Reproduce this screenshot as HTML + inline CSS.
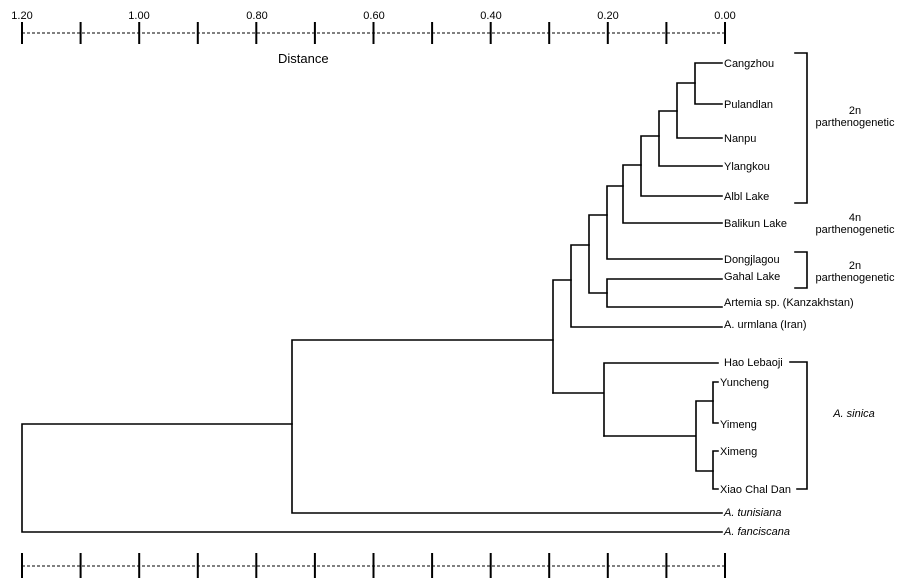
<!DOCTYPE html>
<html><head><meta charset="utf-8"><style>
html,body{margin:0;padding:0;background:#fff;}
svg{display:block;}
text{font-family:"Liberation Sans",Arial,sans-serif;font-size:11px;fill:#000;}
</style></head><body>
<svg width="900" height="581" viewBox="0 0 900 581" xmlns="http://www.w3.org/2000/svg">
<g stroke="#000" stroke-width="1" stroke-dasharray="3,2" fill="none">
<line x1="22" y1="33" x2="725" y2="33"/>
<line x1="22" y1="566" x2="725" y2="566"/>
</g>
<g stroke="#000" stroke-width="2" fill="none">
<path d="M22 22V44M80.6 22V44M139.2 22V44M197.8 22V44M256.3 22V44M314.9 22V44M373.5 22V44M432.1 22V44M490.7 22V44M549.2 22V44M607.8 22V44M666.4 22V44M725 22V44"/>
<path d="M22 553V578M80.6 553V578M139.2 553V578M197.8 553V578M256.3 553V578M314.9 553V578M373.5 553V578M432.1 553V578M490.7 553V578M549.2 553V578M607.8 553V578M666.4 553V578M725 553V578"/>
</g>
<g>
<text x="22" y="19" text-anchor="middle">1.20</text>
<text x="139" y="19" text-anchor="middle">1.00</text>
<text x="257" y="19" text-anchor="middle">0.80</text>
<text x="374" y="19" text-anchor="middle">0.60</text>
<text x="491" y="19" text-anchor="middle">0.40</text>
<text x="608" y="19" text-anchor="middle">0.20</text>
<text x="725" y="19" text-anchor="middle">0.00</text>
<text x="278" y="63" style="font-size:13px">Distance</text>
</g>
<g stroke="#000" stroke-width="1.6" fill="none" stroke-linecap="square">
<path d="M695 63H722M695 104H722M695 63V104"/>
<path d="M677 83H695M677 138H722M677 83V138"/>
<path d="M659 111H677M659 166H722M659 111V166"/>
<path d="M641 136H659M641 196H722M641 136V196"/>
<path d="M623 165H641M623 223H722M623 165V223"/>
<path d="M607 186H623M607 259H722M607 186V259"/>
<path d="M607 279H722M607 307H722M607 279V307"/>
<path d="M589 215H607M589 293H607M589 215V293"/>
<path d="M571 245H589M571 327H722M571 245V327"/>
<path d="M553 280H571M553 280V393"/>
<path d="M553 393H604M604 363V436M604 363H718"/>
<path d="M604 436H696M696 401V471M696 401H713M696 471H713"/>
<path d="M713 382V423M713 382H718M713 423H718"/>
<path d="M713 451V489M713 451H718M713 489H718"/>
<path d="M292 340H553M292 340V513M292 513H722"/>
<path d="M22 424H292M22 424V532M22 532H722"/>
<path d="M795 53H807V203H795"/>
<path d="M795 252H807V288H795"/>
<path d="M790 362H807V489H797"/>
</g>
<g>
<text x="724" y="67">Cangzhou</text>
<text x="724" y="108">Pulandlan</text>
<text x="724" y="142">Nanpu</text>
<text x="724" y="170">Ylangkou</text>
<text x="724" y="200">Albl Lake</text>
<text x="724" y="227">Balikun Lake</text>
<text x="724" y="263">Dongjlagou</text>
<text x="724" y="280">Gahal Lake</text>
<text x="724" y="306">Artemia sp. (Kanzakhstan)</text>
<text x="724" y="328">A. urmlana (Iran)</text>
<text x="724" y="366">Hao Lebaoji</text>
<text x="720" y="386">Yuncheng</text>
<text x="720" y="428">Yimeng</text>
<text x="720" y="455">Ximeng</text>
<text x="720" y="493">Xiao Chal Dan</text>
<text x="724" y="516" font-style="italic">A. tunisiana</text>
<text x="724" y="535" font-style="italic">A. fanciscana</text>
<text x="855" y="114" text-anchor="middle">2n</text>
<text x="855" y="126" text-anchor="middle">parthenogenetic</text>
<text x="855" y="221" text-anchor="middle">4n</text>
<text x="855" y="233" text-anchor="middle">parthenogenetic</text>
<text x="855" y="269" text-anchor="middle">2n</text>
<text x="855" y="281" text-anchor="middle">parthenogenetic</text>
<text x="854" y="417" text-anchor="middle" font-style="italic">A. sinica</text>
</g>
</svg>
</body></html>
